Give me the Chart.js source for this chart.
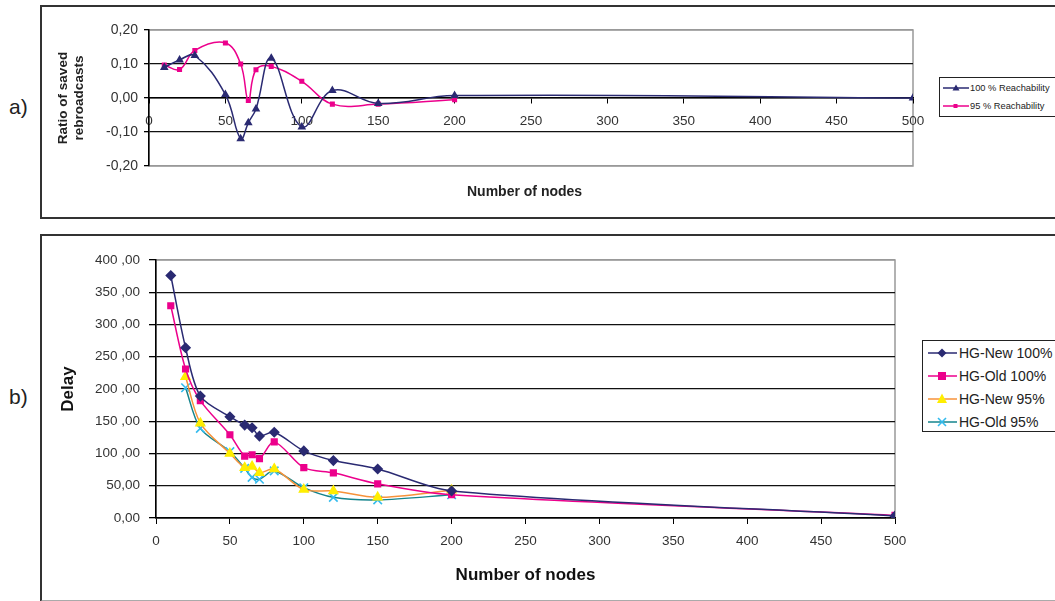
<!DOCTYPE html>
<html>
<head>
<meta charset="utf-8">
<script src="https://cdn.jsdelivr.net/npm/chart.js@4.4.1/dist/chart.umd.min.js"></script>
<style>
  body { margin: 0; background: #fff; }
  #page { position: relative; width: 1055px; height: 601px; overflow: hidden; font-family: "Liberation Sans", Arial, sans-serif; }
  .panel { position: absolute; border: 2px solid #333; box-sizing: border-box; }
  .tag { position: absolute; font-size: 21px; color: #222; line-height: 1; }
  canvas { position: absolute; left: 0; }
  .legend { position: absolute; background: #fff; border: 1px solid #222; box-sizing: border-box; }
  .legend .item { position: absolute; left: 0; display: flex; align-items: center; white-space: nowrap; color: #222; }
  .legend svg { display: block; }
  #xTitleTop { position: absolute; font-weight: bold; font-size: 14px; color: #222; }
</style>
</head>
<body>
<div id="page">
  <div class="panel" style="left:40px; top:5px; width:1100px; height:214px;"></div>
  <div class="panel" style="left:40px; top:234px; width:1100px; height:368px; border-bottom-color:#aaa;"></div>
  <div class="tag" style="left:9px; top:96px;">a)</div>
  <div class="tag" style="left:9px; top:386px;">b)</div>
  <canvas id="ratioChart" width="1055" height="225" style="top:0;"></canvas>
  <canvas id="delayChart" width="1055" height="376" style="top:225px;"></canvas>
  <div id="xTitleTop" style="left:467px; top:183px;">Number of nodes</div>

  <div class="legend" id="legendTop" style="left:939px; top:77px; width:130px; height:40px;">
    <div class="item" style="top:3px; font-size:9.3px;">
      <svg width="30" height="14"><line x1="3" y1="7" x2="29" y2="7" stroke="#2a2a72" stroke-width="1.5"/><polygon points="16,3.5 19.5,9.5 12.5,9.5" fill="#2a2a72"/></svg>
      <span>100 % Reachability</span>
    </div>
    <div class="item" style="top:21px; font-size:9.3px;">
      <svg width="30" height="14"><line x1="3" y1="7" x2="29" y2="7" stroke="#ec008c" stroke-width="1.5"/><rect x="13.5" y="5" width="4" height="4" fill="#ec008c"/></svg>
      <span>95 % Reachability</span>
    </div>
  </div>

  <div class="legend" id="legendBottom" style="left:922px; top:340px; width:150px; height:92px;">
    <div class="item" style="top:3px; font-size:14px;">
      <svg width="36" height="18"><line x1="5" y1="9" x2="34" y2="9" stroke="#2a2a72" stroke-width="1.5"/><polygon points="19,4.5 23.5,9 19,13.5 14.5,9" fill="#2a2a72"/></svg>
      <span>HG-New 100%</span>
    </div>
    <div class="item" style="top:26px; font-size:14px;">
      <svg width="36" height="18"><line x1="5" y1="9" x2="34" y2="9" stroke="#ec008c" stroke-width="1.5"/><rect x="15" y="5" width="8" height="8" fill="#ec008c"/></svg>
      <span>HG-Old 100%</span>
    </div>
    <div class="item" style="top:49px; font-size:14px;">
      <svg width="36" height="18"><line x1="5" y1="9" x2="34" y2="9" stroke="#f7923a" stroke-width="1.5"/><polygon points="19,3.5 24,13 14,13" fill="#ffee00"/></svg>
      <span>HG-New 95%</span>
    </div>
    <div class="item" style="top:72px; font-size:14px;">
      <svg width="36" height="18"><line x1="5" y1="9" x2="34" y2="9" stroke="#15848c" stroke-width="1.5"/><path d="M15,5 L23,13 M23,5 L15,13" stroke="#33bbee" stroke-width="1.6"/></svg>
      <span>HG-Old 95%</span>
    </div>
  </div>
</div>

<script>
// ---- data: a) ratio of saved rebroadcasts ----
const nodes100 = [10, 20, 30, 50, 60, 65, 70, 80, 100, 120, 150, 200, 500];
const reach100 = [0.09, 0.112, 0.125, 0.01, -0.12, -0.073, -0.032, 0.117, -0.085, 0.022, -0.016, 0.007, 0.0];
const nodes95 = [10, 20, 30, 50, 60, 65, 70, 80, 100, 120, 150, 200];
const reach95 = [0.097, 0.084, 0.14, 0.162, 0.10, -0.007, 0.083, 0.093, 0.049, -0.018, -0.018, -0.005];

// ---- data: b) delay ----
const nodesAll = [10, 20, 30, 50, 60, 65, 70, 80, 100, 120, 150, 200, 500];
const delayNew100 = [376, 264, 189, 157, 144, 140, 127, 133, 104, 89, 76, 42, 3];
const delayOld100 = [329, 231, 182, 129, 96, 98, 92, 118, 78, 70, 53, 36, 4];
const nodes95b = [20, 30, 50, 60, 65, 70, 80, 100, 120, 150, 200];
const delayNew95 = [219, 147, 100, 78, 80, 70, 76, 44, 42, 32, 43];
const delayOld95 = [202, 139, 103, 77, 63, 60, 73, 47, 32, 28, 36];

const ratioTicks = [-0.2, -0.1, 0, 0.1, 0.2];
const delayTicks = [0, 50, 100, 150, 200, 250, 300, 350, 400];

Chart.defaults.font.family = '"Liberation Sans", Arial, sans-serif';
Chart.defaults.color = '#333';

const toPoints = (xs, ys) => xs.map((x, i) => ({ x: x, y: ys[i] }));

// grey frame around the plot area (Excel style)
const plotFrame = {
    id: 'plotFrame',
    beforeDraw(chart) {
        const a = chart.chartArea;
        const c = chart.ctx;
        c.save();
        c.strokeStyle = '#999';
        c.lineWidth = 1.5;
        c.strokeRect(a.left, a.top, a.right - a.left, a.bottom - a.top);
        c.restore();
    }
};

// a) Ratio chart
new Chart(document.getElementById('ratioChart'), {
    type: 'line',
    data: {
        datasets: [
            {
                label: '100 % Reachability',
                data: toPoints(nodes100, reach100),
                borderColor: '#2a2a72',
                backgroundColor: '#2a2a72',
                borderWidth: 1.5,
                pointStyle: 'triangle',
                pointRadius: 3.5,
                tension: 0.4
            },
            {
                label: '95 % Reachability',
                data: toPoints(nodes95, reach95),
                borderColor: '#ec008c',
                backgroundColor: '#ec008c',
                borderWidth: 1.5,
                pointStyle: 'rect',
                pointRadius: 2.5,
                tension: 0.4
            }
        ]
    },
    options: {
        responsive: false,
        animation: false,
        layout: { padding: { left: 45, right: 142, top: 30, bottom: 59 } },
        plugins: { legend: { display: false }, tooltip: { enabled: false } },
        scales: {
            x: {
                type: 'linear',
                position: { y: 0 },
                min: 0, max: 500,
                border: { color: '#000', width: 1.5 },
                grid: { drawOnChartArea: false, tickLength: 5, tickColor: '#000' },
                ticks: { stepSize: 50, autoSkip: false, maxRotation: 0, padding: 10, font: { size: 13.5 }, color: '#333' }
            },
            y: {
                min: -0.2, max: 0.2,
                afterFit: (scale) => { scale.width = 104; },
                afterBuildTicks: (scale) => { scale.ticks = ratioTicks.map(v => ({ value: v })); },
                border: { color: '#000', width: 1.5 },
                grid: {
                    color: (ctx) => Math.abs(ctx.tick.value) > 0.19 ? '#999' : '#111',
                    lineWidth: 1.3,
                    tickLength: 5,
                    tickColor: '#000'
                },
                ticks: {
                    padding: 6,
                    font: { size: 14 },
                    color: '#333',
                    callback: (v) => v.toFixed(2).replace('.', ',')
                },
                title: {
                    display: true,
                    text: ['Ratio of saved', 'rebroadcasts'],
                    color: '#222',
                    font: { size: 13.5, weight: 'bold', lineHeight: 1.15 },
                    padding: { top: 11, bottom: 0 }
                }
            }
        }
    },
    plugins: [plotFrame]
});

// b) Delay chart
new Chart(document.getElementById('delayChart'), {
    type: 'line',
    data: {
        datasets: [
            {
                label: 'HG-New 100%',
                data: toPoints(nodesAll, delayNew100),
                borderColor: '#2a2a72',
                backgroundColor: '#2a2a72',
                borderWidth: 1.5,
                pointStyle: 'rectRot',
                pointRadius: 4.5,
                tension: 0.3
            },
            {
                label: 'HG-Old 100%',
                data: toPoints(nodesAll, delayOld100),
                borderColor: '#ec008c',
                backgroundColor: '#ec008c',
                borderWidth: 1.5,
                pointStyle: 'rect',
                pointRadius: 4,
                tension: 0.3
            },
            {
                label: 'HG-New 95%',
                data: toPoints(nodes95b, delayNew95),
                borderColor: '#f7923a',
                backgroundColor: '#ffee00',
                pointBorderColor: '#ffee00',
                borderWidth: 1.5,
                pointStyle: 'triangle',
                pointRadius: 5,
                tension: 0.3
            },
            {
                label: 'HG-Old 95%',
                data: toPoints(nodes95b, delayOld95),
                borderColor: '#15848c',
                backgroundColor: '#33bbee',
                pointBorderColor: '#33bbee',
                pointBorderWidth: 1.6,
                borderWidth: 1.5,
                pointStyle: 'crossRot',
                pointRadius: 6,
                tension: 0.3
            }
        ]
    },
    options: {
        responsive: false,
        animation: false,
        layout: { padding: { left: 45, right: 160, top: 35, bottom: 0 } },
        plugins: { legend: { display: false }, tooltip: { enabled: false } },
        scales: {
            x: {
                type: 'linear',
                min: 0, max: 500,
                afterFit: (scale) => { scale.height = 83; },
                border: { color: '#000', width: 1.5 },
                grid: { drawOnChartArea: false, tickLength: 6, tickColor: '#000' },
                ticks: { stepSize: 50, autoSkip: false, maxRotation: 0, padding: 9, font: { size: 13.5 }, color: '#333' },
                title: {
                    display: true,
                    text: 'Number of nodes',
                    color: '#111',
                    font: { size: 17, weight: 'bold' },
                    padding: { top: 0, bottom: 15 }
                }
            },
            y: {
                min: 0, max: 400,
                afterFit: (scale) => { scale.width = 111; },
                afterBuildTicks: (scale) => { scale.ticks = delayTicks.map(v => ({ value: v })); },
                border: { color: '#000', width: 1.5 },
                grid: {
                    color: (ctx) => ctx.tick.value >= 400 ? '#999' : '#111',
                    lineWidth: 1.3,
                    tickLength: 7,
                    tickColor: '#000'
                },
                ticks: {
                    padding: 9,
                    font: { size: 13.5 },
                    color: '#333',
                    callback: (v) => v.toFixed(2).replace('.', v >= 100 ? ' ,' : ',')
                },
                title: {
                    display: true,
                    text: 'Delay',
                    color: '#111',
                    font: { size: 17, weight: 'bold' },
                    padding: { top: 13, bottom: 0 }
                }
            }
        }
    },
    plugins: [plotFrame]
});
</script>
</body>
</html>
